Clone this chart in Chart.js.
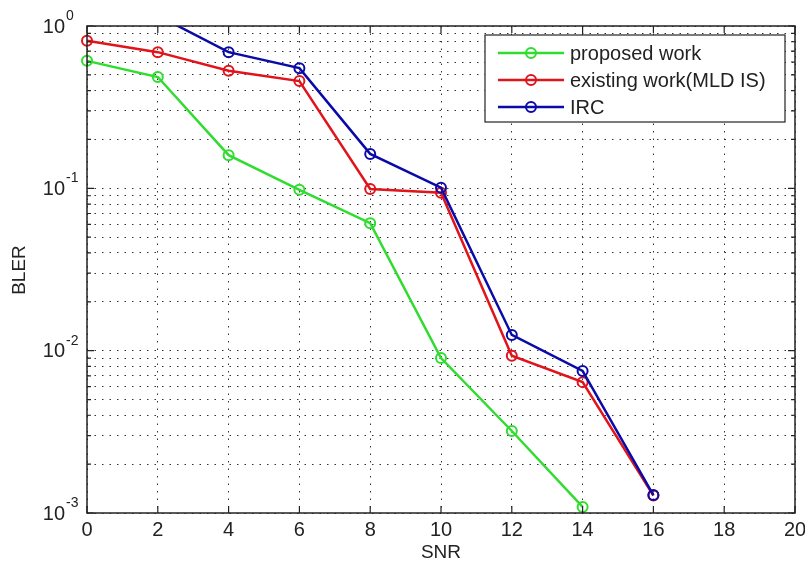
<!DOCTYPE html>
<html>
<head>
<meta charset="utf-8">
<script src="https://cdn.jsdelivr.net/npm/chart.js@4"></script>
<style>
  body { margin: 0; background: #fff; }
  #wrap { width: 805px; height: 563px; }
</style>
</head>
<body>
<div id="wrap"><canvas id="bler" width="805" height="563"></canvas></div>
<script>
// values
const snr = [0, 2, 4, 6, 8, 10, 12, 14, 16];
const proposedWork = [0.61, 0.485, 0.16, 0.098, 0.061, 0.009, 0.0032, 0.00109, null];
const existingWork = [0.81, 0.69, 0.53, 0.458, 0.099, 0.094, 0.0093, 0.0064, 0.00128];
const ircWork = [null, 1.16, 0.69, 0.55, 0.163, 0.101, 0.0125, 0.0075, 0.00129];

const seriesNames = ["proposed work", "existing work(MLD IS)", "IRC"];
const seriesColors = ["#2fdc2f", "#e0141a", "#0a0aa8"];
const xTicks = [0, 2, 4, 6, 8, 10, 12, 14, 16, 18, 20];
const yDecades = [-3, -2, -1, 0];

const FONT = '"Liberation Sans", Arial, sans-serif';

function toPoints(vals) {
  return snr.map((x, i) => ({ x: x, y: vals[i] })).filter((p) => p.y !== null);
}

function logTicks() {
  const t = [];
  for (let d = -3; d < 0; d++) {
    for (let k = 1; k <= 9; k++) t.push({ value: k * Math.pow(10, d), major: k === 1 });
  }
  t.push({ value: 1, major: true });
  return t;
}

const makeSet = (i, vals, order) => ({
  label: seriesNames[i],
  data: toPoints(vals),
  borderColor: seriesColors[i],
  backgroundColor: "rgba(0,0,0,0)",
  borderWidth: 2.5,
  pointRadius: 5,
  pointBorderWidth: 2,
  pointBackgroundColor: "rgba(0,0,0,0)",
  pointBorderColor: seriesColors[i],
  tension: 0,
  order: order,
  clip: { left: 8, right: 8, bottom: 8, top: 0 },
});

const frame = {
  id: "frame",
  afterDatasetsDraw(chart) {
    const ctx = chart.ctx;
    const a = chart.chartArea;
    const xs = chart.scales.x;
    const ys = chart.scales.y;
    ctx.save();

    // box
    ctx.strokeStyle = "#222";
    ctx.lineWidth = 1.5;
    ctx.setLineDash([]);
    ctx.strokeRect(a.left, a.top, a.right - a.left, a.bottom - a.top);

    // inward tick marks
    ctx.lineWidth = 1.2;
    ctx.beginPath();
    xTicks.forEach((v) => {
      const px = xs.getPixelForValue(v);
      ctx.moveTo(px, a.bottom); ctx.lineTo(px, a.bottom - 7);
      ctx.moveTo(px, a.top); ctx.lineTo(px, a.top + 7);
    });
    logTicks().forEach((t) => {
      const py = ys.getPixelForValue(t.value);
      const len = t.major ? 7 : 4;
      ctx.moveTo(a.left, py); ctx.lineTo(a.left + len, py);
      ctx.moveTo(a.right, py); ctx.lineTo(a.right - len, py);
    });
    ctx.stroke();

    // tick labels
    ctx.fillStyle = "#222";
    ctx.font = "20px " + FONT;
    ctx.textAlign = "center";
    ctx.textBaseline = "middle";
    xTicks.forEach((v) => {
      ctx.fillText(String(v), xs.getPixelForValue(v), a.bottom + 17);
    });
    yDecades.forEach((d) => {
      const py = ys.getPixelForValue(Math.pow(10, d));
      ctx.font = "20px " + FONT;
      ctx.textAlign = "right";
      ctx.fillText("10", 65, py + 1);
      ctx.font = "14px " + FONT;
      ctx.textAlign = "left";
      ctx.fillText(String(d), 66, py - 10);
    });

    // axis titles
    ctx.font = "19px " + FONT;
    ctx.textAlign = "center";
    ctx.fillText("SNR", (a.left + a.right) / 2, 553);
    ctx.save();
    ctx.translate(20, 270);
    ctx.rotate(-Math.PI / 2);
    ctx.fillText("BLER", 0, 0);
    ctx.restore();

    // legend
    const lx = 485, ly = 35, lw = 300, lh = 87;
    ctx.fillStyle = "#fff";
    ctx.fillRect(lx, ly, lw, lh);
    ctx.strokeStyle = "#222";
    ctx.lineWidth = 1.2;
    ctx.strokeRect(lx, ly, lw, lh);
    const rows = [53, 80, 107];
    seriesNames.forEach((name, i) => {
      const y = rows[i];
      ctx.strokeStyle = seriesColors[i];
      ctx.lineWidth = 2.5;
      ctx.beginPath();
      ctx.moveTo(498, y); ctx.lineTo(564, y);
      ctx.stroke();
      ctx.lineWidth = 2;
      ctx.beginPath();
      ctx.arc(531, y, 5, 0, Math.PI * 2);
      ctx.stroke();
      ctx.fillStyle = "#222";
      ctx.font = "20px " + FONT;
      ctx.textAlign = "left";
      ctx.fillText(name, 570, y + 1);
    });
    ctx.restore();
  },
};

new Chart(document.getElementById("bler").getContext("2d"), {
  type: "line",
  data: {
    datasets: [
      makeSet(0, proposedWork, 3),
      makeSet(1, existingWork, 2),
      makeSet(2, ircWork, 1),
    ],
  },
  options: {
    responsive: false,
    animation: false,
    devicePixelRatio: 1,
    layout: { padding: { left: 87, top: 26, right: 10, bottom: 50 } },
    plugins: { legend: { display: false }, tooltip: { enabled: false } },
    scales: {
      x: {
        type: "linear",
        min: 0,
        max: 20,
        afterBuildTicks: (s) => { s.ticks = xTicks.map((v) => ({ value: v })); },
        afterFit: (s) => { s.height = 0; },
        ticks: { display: false },
        grid: { color: "#333", lineWidth: 1, drawTicks: false },
        border: { display: false, dash: [1.5, 6] },
      },
      y: {
        type: "logarithmic",
        min: 0.001,
        max: 1,
        afterBuildTicks: (s) => { s.ticks = logTicks(); },
        afterFit: (s) => { s.width = 0; },
        ticks: { display: false, autoSkip: false },
        grid: { color: "#333", lineWidth: 1, drawTicks: false },
        border: { display: false, dash: [1.5, 6] },
      },
    },
  },
  plugins: [frame],
});
</script>
</body>
</html>
